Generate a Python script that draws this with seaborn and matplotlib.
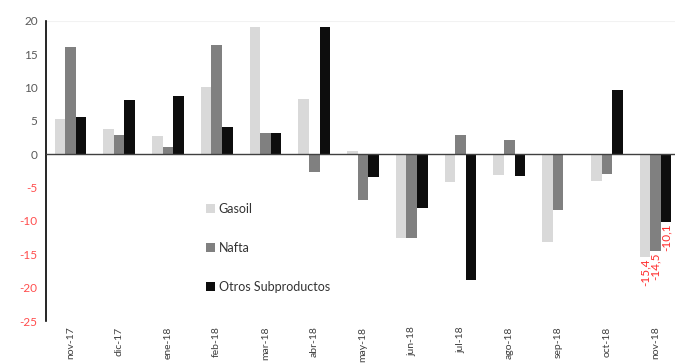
import matplotlib
matplotlib.use("Agg")
import matplotlib.pyplot as plt
import seaborn as sns
import pandas as pd

meses = ["nov-17", "dic-17", "ene-18", "feb-18", "mar-18", "abr-18", "may-18",
         "jun-18", "jul-18", "ago-18", "sep-18", "oct-18", "nov-18"]
gasoil = [5.3, 3.7, 2.7, 10.0, 19.1, 8.2, 0.5, -12.6, -4.2, -3.1, -13.1, -4.0, -15.4]
nafta = [16.1, 2.8, 1.1, 16.3, 3.1, -2.6, -6.9, -12.5, 2.8, 2.1, -8.3, -2.9, -14.5]
otros = [5.6, 8.1, 8.7, 4.1, 3.1, 19.0, -3.4, -8.1, -18.8, -3.3, 0.0, 9.6, -10.1]
series = ["Gasoil", "Nafta", "Otros Subproductos"]
colores = ["#d9d9d9", "#808080", "#0d0d0d"]
yticks = [20, 15, 10, 5, 0, -5, -10, -15, -20, -25]

df = pd.DataFrame({
    "mes": meses * 3,
    "serie": [s for s in series for _ in meses],
    "valor": gasoil + nafta + otros,
})

sns.set_style("white")
plt.rcParams["font.family"] = ["Lato", "DejaVu Sans"]

fig = plt.figure(figsize=(6.75, 3.63), dpi=100)
ax = fig.add_axes([46 / 675, 1 - 321 / 363, 634 / 675, 300.3 / 363])

sns.barplot(data=df, x="mes", y="valor", hue="serie", order=meses,
            hue_order=series, palette=colores, width=0.65, saturation=1,
            linewidth=0, ax=ax)

ax.set_xlim(-0.5, 12.5)
ax.set_ylim(-25, 20)
ax.set_yticks(yticks)
ax.set_yticklabels([str(v) for v in yticks], fontsize=8.5)
for lbl, v in zip(ax.get_yticklabels(), yticks):
    lbl.set_color("#ff4d4d" if v < 0 else "#595959")
ax.tick_params(axis="y", direction="in", length=3, width=1, color="#000000", pad=6)
ax.tick_params(axis="x", length=0, pad=4, labelsize=7.5, labelcolor="#404040",
               labelrotation=90)
for lbl in ax.get_xticklabels():
    lbl.set_verticalalignment("top")

ax.set_xlabel("")
ax.set_ylabel("")
for side in ["top", "right", "bottom"]:
    ax.spines[side].set_visible(False)
ax.spines["left"].set_color("#000000")
ax.spines["left"].set_linewidth(1.2)
ax.axhline(0, color="#404040", linewidth=1.0, zorder=3)
ax.axhline(20, color="#f2f2f2", linewidth=0.8, zorder=0)

# Value labels for the last month
ultimos = [gasoil[-1], nafta[-1], otros[-1]]
desplaz = [-0.65 / 3, 0.0, 0.65 / 3]
for v, dx in zip(ultimos, desplaz):
    ax.text(12 + dx, v - 0.2, f"{v:.1f}".replace(".", ","), rotation=90,
            ha="center", va="top", color="#ff2a2a", fontsize=8.5)

leg = ax.legend(loc="upper left", bbox_to_anchor=(0.245, 0.41), frameon=False,
                fontsize=9, handlelength=0.7, handleheight=0.7,
                handletextpad=0.3, labelspacing=2.15, borderaxespad=0)
for t in leg.get_texts():
    t.set_color("#333333")

fig.savefig("out.png", dpi=100)
